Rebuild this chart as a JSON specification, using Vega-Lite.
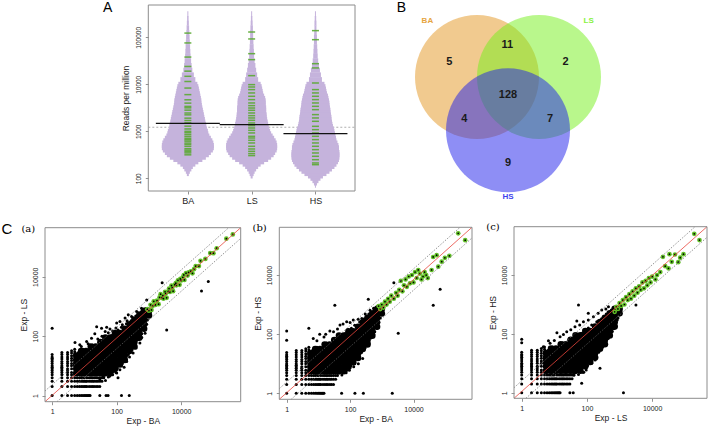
{
"$schema":"https://vega.github.io/schema/vega-lite/v6.json",
"width":708,"height":426,"autosize":"none","padding":0,"background":"white",
"config":{"view":{"stroke":null},"font":"Liberation Sans",
 "axis":{"grid":false,"domain":false,"tickColor":"#777","tickSize":3,"tickWidth":0.8,"labelColor":"#222","titleColor":"#222","titleFontWeight":"normal","labelFont":"Liberation Sans","titleFont":"Liberation Sans","labelOverlap":false,"labelFlush":false,"labelFontSize":7,"titleFontSize":8.5},
 "axisY":{"labelAngle":-90,"labelAlign":"center","labelBaseline":"bottom","labelPadding":4,"titlePadding":3},
 "axisX":{"labelPadding":3,"titlePadding":2}},
"datasets":{
"core":[{"x":5.62,"y":5.62},{"x":5.62,"y":7.94},{"x":5.62,"y":11.2},{"x":5.62,"y":15.8},{"x":5.62,"y":22.4},
{"x":7.94,"y":5.62},{"x":7.94,"y":7.94},{"x":7.94,"y":11.2},{"x":7.94,"y":15.8},{"x":7.94,"y":22.4},{"x":7.94,"y":31.6},
{"x":11.2,"y":5.62},{"x":11.2,"y":7.94},{"x":11.2,"y":11.2},{"x":11.2,"y":15.8},{"x":11.2,"y":22.4},{"x":11.2,"y":31.6},
{"x":15.8,"y":5.62},{"x":15.8,"y":7.94},{"x":15.8,"y":11.2},{"x":15.8,"y":15.8},{"x":15.8,"y":22.4},{"x":15.8,"y":31.6},{"x":15.8,"y":44.7},
{"x":22.4,"y":5.62},{"x":22.4,"y":7.94},{"x":22.4,"y":11.2},{"x":22.4,"y":15.8},{"x":22.4,"y":22.4},{"x":22.4,"y":31.6},{"x":22.4,"y":44.7},
{"x":31.6,"y":5.62},{"x":31.6,"y":7.94},{"x":31.6,"y":11.2},{"x":31.6,"y":15.8},{"x":31.6,"y":22.4},{"x":31.6,"y":31.6},{"x":31.6,"y":44.7},{"x":31.6,"y":63.1},
{"x":44.7,"y":5.62},{"x":44.7,"y":7.94},{"x":44.7,"y":11.2},{"x":44.7,"y":15.8},{"x":44.7,"y":22.4},{"x":44.7,"y":31.6},{"x":44.7,"y":44.7},{"x":44.7,"y":63.1},{"x":44.7,"y":89.1},
{"x":63.1,"y":5.62},{"x":63.1,"y":7.94},{"x":63.1,"y":11.2},{"x":63.1,"y":15.8},{"x":63.1,"y":22.4},{"x":63.1,"y":31.6},{"x":63.1,"y":44.7},{"x":63.1,"y":63.1},{"x":63.1,"y":89.1},
{"x":89.1,"y":7.94},{"x":89.1,"y":11.2},{"x":89.1,"y":15.8},{"x":89.1,"y":22.4},{"x":89.1,"y":31.6},{"x":89.1,"y":44.7},{"x":89.1,"y":63.1},{"x":89.1,"y":89.1},{"x":89.1,"y":126},
{"x":126,"y":11.2},{"x":126,"y":15.8},{"x":126,"y":22.4},{"x":126,"y":31.6},{"x":126,"y":44.7},{"x":126,"y":63.1},{"x":126,"y":89.1},{"x":126,"y":126},
{"x":178,"y":15.8},{"x":178,"y":22.4},{"x":178,"y":31.6},{"x":178,"y":44.7},{"x":178,"y":63.1},{"x":178,"y":89.1},{"x":178,"y":126},{"x":178,"y":178},
{"x":251,"y":31.6},{"x":251,"y":44.7},{"x":251,"y":63.1},{"x":251,"y":89.1},{"x":251,"y":126},{"x":251,"y":178},{"x":251,"y":251},
{"x":355,"y":44.7},{"x":355,"y":63.1},{"x":355,"y":89.1},{"x":355,"y":126},{"x":355,"y":178},{"x":355,"y":251},{"x":355,"y":355},
{"x":501,"y":89.1},{"x":501,"y":126},{"x":501,"y":178},{"x":501,"y":251},{"x":501,"y":355},{"x":501,"y":501},
{"x":708,"y":178},{"x":708,"y":251},{"x":708,"y":355},{"x":708,"y":501},{"x":708,"y":708},
{"x":1000,"y":501},{"x":1000,"y":708}],
"grid":[{"x":1,"y":1},{"x":1,"y":2},{"x":1,"y":3},{"x":1,"y":4},{"x":1,"y":5},{"x":1,"y":6},{"x":1,"y":7},{"x":1,"y":8},{"x":1,"y":9},{"x":1,"y":10},{"x":1,"y":12},{"x":1,"y":14},{"x":1,"y":16},{"x":1,"y":18},{"x":1,"y":20},{"x":1,"y":24},
{"x":2,"y":1},{"x":2,"y":2},{"x":2,"y":3},{"x":2,"y":4},{"x":2,"y":5},{"x":2,"y":6},{"x":2,"y":7},{"x":2,"y":8},{"x":2,"y":9},{"x":2,"y":10},{"x":2,"y":12},{"x":2,"y":14},{"x":2,"y":17},{"x":2,"y":20},{"x":2,"y":24},{"x":2,"y":28},
{"x":3,"y":1},{"x":3,"y":2},{"x":3,"y":3},{"x":3,"y":4},{"x":3,"y":5},{"x":3,"y":6},{"x":3,"y":7},{"x":3,"y":8},{"x":3,"y":10},{"x":3,"y":12},{"x":3,"y":14},{"x":3,"y":17},{"x":3,"y":20},{"x":3,"y":24},{"x":3,"y":28},
{"x":4,"y":1},{"x":4,"y":2},{"x":4,"y":3},{"x":4,"y":4},{"x":4,"y":5},{"x":4,"y":6},{"x":4,"y":8},{"x":4,"y":10},{"x":4,"y":12},{"x":4,"y":15},{"x":4,"y":18},{"x":4,"y":22},{"x":4,"y":27},{"x":4,"y":32},
{"x":5,"y":1},{"x":5,"y":2},{"x":5,"y":3},{"x":5,"y":4},{"x":5,"y":5},{"x":5,"y":6},{"x":5,"y":8},{"x":5,"y":10},{"x":5,"y":13},{"x":5,"y":16},{"x":5,"y":20},{"x":5,"y":25},{"x":5,"y":30},{"x":5,"y":36},
{"x":6,"y":1},{"x":7,"y":1},{"x":8,"y":1},{"x":9,"y":1},{"x":10,"y":1},{"x":11,"y":1},{"x":12,"y":1},{"x":13,"y":1},{"x":14,"y":1},{"x":15,"y":1},
{"x":6,"y":2},{"x":7,"y":2},{"x":8,"y":2},{"x":9,"y":2},{"x":10,"y":2},{"x":11,"y":2},{"x":12,"y":2},{"x":14,"y":2},{"x":16,"y":2},{"x":18,"y":2},{"x":20,"y":2},{"x":23,"y":2},{"x":26,"y":2},{"x":30,"y":2},
{"x":6,"y":3},{"x":7,"y":3},{"x":8,"y":3},{"x":9,"y":3},{"x":10,"y":3},{"x":11,"y":3},{"x":12,"y":3},{"x":14,"y":3},{"x":16,"y":3},{"x":18,"y":3},{"x":20,"y":3},{"x":23,"y":3},{"x":26,"y":3},{"x":30,"y":3},{"x":35,"y":3},
{"x":6,"y":4},{"x":7,"y":4},{"x":8,"y":4},{"x":9,"y":4},{"x":10,"y":4},{"x":12,"y":4},{"x":14,"y":4},{"x":16,"y":4},{"x":18,"y":4},{"x":20,"y":4},{"x":23,"y":4},{"x":26,"y":4},{"x":30,"y":4},{"x":35,"y":4},{"x":40,"y":4},
{"x":6,"y":5},{"x":7,"y":5},{"x":8,"y":5},{"x":9,"y":5},{"x":10,"y":5},{"x":12,"y":5},{"x":14,"y":5},{"x":16,"y":5},{"x":18,"y":5},{"x":20,"y":5},{"x":23,"y":5},{"x":26,"y":5},{"x":30,"y":5},{"x":35,"y":5},{"x":40,"y":5},{"x":46,"y":5}],
"fringe":[{"x":6.5,"y":28},{"x":9,"y":36},{"x":18,"y":50},{"x":28,"y":62},{"x":40,"y":75},{"x":70,"y":105},{"x":85,"y":140},{"x":110,"y":160},{"x":140,"y":200},{"x":200,"y":260},{"x":280,"y":330},{"x":390,"y":480},{"x":560,"y":650},{"x":800,"y":850},{"x":40,"y":4.8},{"x":55,"y":4.2},{"x":75,"y":5},{"x":95,"y":6},{"x":105,"y":8.5},{"x":140,"y":10},{"x":190,"y":17},{"x":230,"y":24},{"x":300,"y":35},{"x":380,"y":55},{"x":450,"y":75},{"x":600,"y":120},{"x":700,"y":160},{"x":900,"y":350}],
"blackA":[{"x":30,"y":1},{"x":47,"y":1},{"x":54,"y":1},{"x":141,"y":1},{"x":245,"y":1},{"x":1,"y":186},{"x":5.1,"y":61},{"x":7.2,"y":51},{"x":24,"y":209},{"x":34,"y":186},{"x":49,"y":200},{"x":100,"y":275},{"x":229,"y":525},{"x":851,"y":1660},{"x":2570,"y":6310},{"x":3550,"y":162},{"x":42700,"y":3310},{"x":69200,"y":6920},{"x":100,"y":5.7},
{"x":11.7,"y":66},{"x":16.6,"y":85},{"x":21,"y":120},{"x":44,"y":144},{"x":62,"y":174},{"x":126,"y":309},{"x":182,"y":407},{"x":289,"y":457},{"x":417,"y":676},{"x":589,"y":871},{"x":8,"y":45},{"x":13,"y":55},{"x":26,"y":80},{"x":35,"y":100},{"x":55,"y":130},{"x":75,"y":150},{"x":95,"y":190},{"x":150,"y":240},{"x":210,"y":330},{"x":320,"y":420},{"x":480,"y":620},{"x":650,"y":760},
{"x":62,"y":9.5},{"x":126,"y":7.4},{"x":204,"y":14},{"x":324,"y":27},{"x":525,"y":59},{"x":759,"y":126},{"x":30,"y":3.4},{"x":38,"y":4.4},{"x":80,"y":6.5},{"x":150,"y":12},{"x":250,"y":20},{"x":400,"y":40},{"x":600,"y":90},{"x":850,"y":250},{"x":110,"y":4},{"x":170,"y":9},{"x":45,"y":3.2},{"x":60,"y":4.5}],
"blackB":[{"x":54,"y":1},{"x":142,"y":1},{"x":262,"y":1},{"x":2140,"y":1},{"x":1,"y":129},{"x":1,"y":63},{"x":5,"y":158},{"x":17,"y":100},{"x":33,"y":955},{"x":48,"y":72},{"x":69,"y":49},{"x":375,"y":1510},{"x":2400,"y":5470},{"x":3300,"y":107},{"x":41900,"y":958},{"x":69200,"y":3330},{"x":69,"y":9},{"x":100,"y":17},{"x":182,"y":10},{"x":204,"y":22},{"x":295,"y":43},{"x":162,"y":55},{"x":80,"y":6},{"x":130,"y":8},{"x":250,"y":15},{"x":400,"y":50},{"x":550,"y":100},{"x":800,"y":250},{"x":6.9,"y":72},{"x":11,"y":100},{"x":23,"y":129},{"x":48,"y":204},{"x":78,"y":263},{"x":126,"y":302},{"x":234,"y":339},{"x":427,"y":646},{"x":692,"y":851},{"x":9,"y":60},{"x":15,"y":80},{"x":30,"y":120},{"x":40,"y":150},{"x":60,"y":220},{"x":100,"y":250},{"x":180,"y":320},{"x":300,"y":480},{"x":550,"y":750}],
"blackC":[{"x":30,"y":1},{"x":38,"y":1},{"x":1318,"y":1},{"x":1,"y":66},{"x":1,"y":50},{"x":6.6,"y":59},{"x":12,"y":110},{"x":49,"y":275},{"x":55,"y":960},{"x":110,"y":500},{"x":34,"y":7.6},{"x":178,"y":13},{"x":251,"y":6.8},{"x":69,"y":2.1},{"x":3180,"y":960},{"x":4.6,"y":37},{"x":7.4,"y":48},{"x":15,"y":80},{"x":24,"y":118},{"x":43,"y":175},{"x":78,"y":259},{"x":158,"y":387},{"x":284,"y":651},{"x":457,"y":846},{"x":10,"y":60},{"x":19,"y":95},{"x":32,"y":140},{"x":60,"y":200},{"x":110,"y":300},{"x":220,"y":500},{"x":380,"y":700},{"x":60,"y":8},{"x":100,"y":10},{"x":150,"y":15},{"x":220,"y":25},{"x":320,"y":40},{"x":450,"y":70},{"x":650,"y":150},{"x":850,"y":300},{"x":40,"y":4},{"x":80,"y":5}],
"greenA":[{"x":891,"y":811},{"x":1000,"y":719},{"x":1122,"y":1135},{"x":1202,"y":767},{"x":1318,"y":1054},{"x":1413,"y":1486},{"x":1585,"y":1125},{"x":1778,"y":1581},{"x":1995,"y":1197},{"x":2138,"y":2028},{"x":2512,"y":1972},{"x":2818,"y":1832},{"x":3162,"y":3105},{"x":3548,"y":1950},{"x":3981,"y":3221},{"x":4467,"y":3069},{"x":5012,"y":5070},{"x":5623,"y":3266},{"x":6310,"y":5395},{"x":7079,"y":5140},{"x":7943,"y":7568},{"x":8913,"y":5346},{"x":10000,"y":7516},{"x":11220,"y":9640},{"x":12590,"y":7816},{"x":14130,"y":13210},{"x":15850,"y":10960},{"x":19950,"y":15380},{"x":22390,"y":13030},{"x":28180,"y":23010},{"x":35480,"y":22860},{"x":39810,"y":34440},{"x":56230,"y":40090},{"x":79430,"y":62810},{"x":100000,"y":62370},{"x":125900,"y":91620},{"x":251200,"y":191900},{"x":398100,"y":266700},{"x":2300,"y":2600},{"x":2700,"y":2300},{"x":3300,"y":2700},{"x":4200,"y":4000},{"x":5300,"y":4300},{"x":6800,"y":6100},{"x":9400,"y":8500},{"x":12000,"y":11500},{"x":17000,"y":14000},{"x":25000,"y":18000}],
"greenB":[{"x":257000,"y":257000},{"x":427000,"y":151000},{"x":41700,"y":40700},{"x":53700,"y":46800},{"x":97700,"y":38000},{"x":135000,"y":44700},{"x":77600,"y":28200},{"x":60300,"y":19100},{"x":37200,"y":14800},{"x":14100,"y":14800},{"x":15800,"y":11200},{"x":20000,"y":8900},{"x":25100,"y":10000},{"x":28200,"y":7900},{"x":17800,"y":7100},{"x":22400,"y":12600},{"x":7760,"y":5250},{"x":6170,"y":3980},{"x":5010,"y":4470},{"x":4470,"y":2820},{"x":3550,"y":3160},{"x":3160,"y":2000},{"x":2820,"y":2510},{"x":2400,"y":1580},{"x":2000,"y":2000},{"x":1780,"y":1260},{"x":1580,"y":1580},{"x":1410,"y":1000},{"x":1260,"y":1260},{"x":1120,"y":794},{"x":1000,"y":1000},{"x":891,"y":708},{"x":794,"y":891},{"x":3980,"y":6310},{"x":5620,"y":7080},{"x":7080,"y":8910},{"x":8910,"y":10000},{"x":11200,"y":12600},{"x":10000,"y":5620},{"x":12600,"y":7940}],
"greenC":[{"x":195000,"y":251000},{"x":282000,"y":155000},{"x":33900,"y":51300},{"x":21400,"y":41700},{"x":72400,"y":38900},{"x":91200,"y":51300},{"x":63100,"y":27500},{"x":31600,"y":17000},{"x":25100,"y":20000},{"x":17800,"y":12600},{"x":14100,"y":10000},{"x":12600,"y":7080},{"x":10000,"y":8910},{"x":8910,"y":5620},{"x":7940,"y":7940},{"x":7080,"y":4470},{"x":6310,"y":6310},{"x":5620,"y":3550},{"x":5010,"y":5620},{"x":4470,"y":3160},{"x":3980,"y":4170},{"x":3550,"y":2510},{"x":3160,"y":3550},{"x":2820,"y":2000},{"x":2510,"y":2820},{"x":2240,"y":1580},{"x":2000,"y":2240},{"x":1780,"y":1410},{"x":1580,"y":1780},{"x":1410,"y":1000},{"x":1260,"y":1410},{"x":1120,"y":891},{"x":1000,"y":1120},{"x":891,"y":708},{"x":794,"y":832},{"x":708,"y":562},{"x":39800,"y":28200},{"x":50100,"y":50100}]
},
"layer":[
{
 "encoding":{
  "x":{"field":"fx","type":"quantitative","scale":{"domain":[0,1],"range":[148.3,355],"nice":false,"zero":false},"axis":null},
  "y":{"field":"fy","type":"quantitative","scale":{"type":"log","domain":[53.7,487000],"range":[191,5],"nice":false},"axis":null}},
 "layer":[
  {"data":{"values":[{"fx":0,"fy":53.7,"fx2":1,"fy2":487000}]},"mark":{"type":"rect","filled":false,"color":"#8c8c8c","strokeWidth":1},"encoding":{"x2":{"field":"fx2"},"y2":{"field":"fy2"}}},
  {"data":{"values":[{"fx":0,"fx2":1,"fy":1220}]},"mark":{"type":"rule","strokeDash":[2,2],"color":"#9a9a9a","strokeWidth":0.8},"encoding":{"x2":{"field":"fx2"}}},
  {"data":{"values":[{"t":"A","fx":-0.196,"fy":414000}]},"mark":{"type":"text","fontSize":14,"color":"#000","align":"center","baseline":"middle"},"encoding":{"text":{"field":"t","type":"nominal"}}}
 ]
},
{
 "encoding":{
  "x":{"field":"g","type":"nominal","sort":null,"scale":{"type":"point","domain":["BA","LS","HS"],"range":[148.3,355],"padding":0.62},"axis":{"orient":"bottom","offset":-235,"title":null,"labelAngle":0,"labelFontSize":9,"labelPadding":2}},
  "y":{"field":"rpm","type":"quantitative","scale":{"type":"log","domain":[53.7,487000],"range":[191,5],"nice":false},"axis":{"orient":"left","offset":-148.3,"values":[100,1000,10000,100000],"format":"d","title":"Reads per million","labelFontSize":6.5,"titleFontSize":8.5,"titlePadding":5}}},
 "layer":[
  {"data":{"values":[
{"g":"BA","rpm":126,"dens":0.04},{"g":"BA","rpm":141,"dens":0.08},{"g":"BA","rpm":158,"dens":0.14},{"g":"BA","rpm":178,"dens":0.2},{"g":"BA","rpm":200,"dens":0.3},{"g":"BA","rpm":224,"dens":0.42},{"g":"BA","rpm":251,"dens":0.58},{"g":"BA","rpm":282,"dens":0.72},{"g":"BA","rpm":316,"dens":0.84},{"g":"BA","rpm":355,"dens":0.92},{"g":"BA","rpm":398,"dens":1.0},{"g":"BA","rpm":447,"dens":1.04},{"g":"BA","rpm":501,"dens":1.04},{"g":"BA","rpm":562,"dens":1.02},{"g":"BA","rpm":631,"dens":0.98},{"g":"BA","rpm":708,"dens":0.92},{"g":"BA","rpm":794,"dens":0.86},{"g":"BA","rpm":891,"dens":0.82},{"g":"BA","rpm":1000,"dens":0.8},{"g":"BA","rpm":1122,"dens":0.76},{"g":"BA","rpm":1259,"dens":0.74},{"g":"BA","rpm":1413,"dens":0.72},{"g":"BA","rpm":1585,"dens":0.7},{"g":"BA","rpm":1778,"dens":0.68},{"g":"BA","rpm":1995,"dens":0.66},{"g":"BA","rpm":2239,"dens":0.64},{"g":"BA","rpm":2512,"dens":0.62},{"g":"BA","rpm":2818,"dens":0.6},{"g":"BA","rpm":3162,"dens":0.58},{"g":"BA","rpm":3548,"dens":0.56},{"g":"BA","rpm":3981,"dens":0.54},{"g":"BA","rpm":4467,"dens":0.54},{"g":"BA","rpm":5012,"dens":0.52},{"g":"BA","rpm":5623,"dens":0.5},{"g":"BA","rpm":6310,"dens":0.48},{"g":"BA","rpm":7079,"dens":0.46},{"g":"BA","rpm":7943,"dens":0.44},{"g":"BA","rpm":8913,"dens":0.42},{"g":"BA","rpm":10000,"dens":0.38},{"g":"BA","rpm":12589,"dens":0.3},{"g":"BA","rpm":15849,"dens":0.24},{"g":"BA","rpm":19953,"dens":0.18},{"g":"BA","rpm":25119,"dens":0.15},{"g":"BA","rpm":31623,"dens":0.13},{"g":"BA","rpm":39811,"dens":0.11},{"g":"BA","rpm":50119,"dens":0.1},{"g":"BA","rpm":63096,"dens":0.09},{"g":"BA","rpm":79433,"dens":0.08},{"g":"BA","rpm":100000,"dens":0.07},{"g":"BA","rpm":125893,"dens":0.06},{"g":"BA","rpm":158489,"dens":0.05},{"g":"BA","rpm":199526,"dens":0.04},{"g":"BA","rpm":251189,"dens":0.03},{"g":"BA","rpm":316228,"dens":0.02},
{"g":"LS","rpm":112,"dens":0.04},{"g":"LS","rpm":126,"dens":0.08},{"g":"LS","rpm":141,"dens":0.12},{"g":"LS","rpm":158,"dens":0.18},{"g":"LS","rpm":178,"dens":0.26},{"g":"LS","rpm":200,"dens":0.36},{"g":"LS","rpm":224,"dens":0.5},{"g":"LS","rpm":251,"dens":0.66},{"g":"LS","rpm":282,"dens":0.78},{"g":"LS","rpm":316,"dens":0.88},{"g":"LS","rpm":355,"dens":0.94},{"g":"LS","rpm":398,"dens":1.0},{"g":"LS","rpm":447,"dens":1.02},{"g":"LS","rpm":501,"dens":1.02},{"g":"LS","rpm":562,"dens":1.0},{"g":"LS","rpm":631,"dens":0.96},{"g":"LS","rpm":708,"dens":0.9},{"g":"LS","rpm":794,"dens":0.84},{"g":"LS","rpm":891,"dens":0.78},{"g":"LS","rpm":1000,"dens":0.74},{"g":"LS","rpm":1122,"dens":0.7},{"g":"LS","rpm":1259,"dens":0.68},{"g":"LS","rpm":1413,"dens":0.66},{"g":"LS","rpm":1585,"dens":0.64},{"g":"LS","rpm":1778,"dens":0.62},{"g":"LS","rpm":1995,"dens":0.6},{"g":"LS","rpm":2239,"dens":0.6},{"g":"LS","rpm":2512,"dens":0.58},{"g":"LS","rpm":2818,"dens":0.58},{"g":"LS","rpm":3162,"dens":0.58},{"g":"LS","rpm":3548,"dens":0.56},{"g":"LS","rpm":3981,"dens":0.56},{"g":"LS","rpm":4467,"dens":0.56},{"g":"LS","rpm":5012,"dens":0.54},{"g":"LS","rpm":5623,"dens":0.5},{"g":"LS","rpm":6310,"dens":0.46},{"g":"LS","rpm":7079,"dens":0.44},{"g":"LS","rpm":7943,"dens":0.42},{"g":"LS","rpm":8913,"dens":0.4},{"g":"LS","rpm":10000,"dens":0.36},{"g":"LS","rpm":12589,"dens":0.26},{"g":"LS","rpm":15849,"dens":0.22},{"g":"LS","rpm":19953,"dens":0.18},{"g":"LS","rpm":25119,"dens":0.15},{"g":"LS","rpm":31623,"dens":0.12},{"g":"LS","rpm":39811,"dens":0.1},{"g":"LS","rpm":50119,"dens":0.09},{"g":"LS","rpm":63096,"dens":0.08},{"g":"LS","rpm":79433,"dens":0.07},{"g":"LS","rpm":100000,"dens":0.06},{"g":"LS","rpm":125893,"dens":0.06},{"g":"LS","rpm":158489,"dens":0.05},{"g":"LS","rpm":199526,"dens":0.04},{"g":"LS","rpm":251189,"dens":0.03},{"g":"LS","rpm":316228,"dens":0.02},
{"g":"HS","rpm":70.8,"dens":0.02},{"g":"HS","rpm":79.4,"dens":0.06},{"g":"HS","rpm":89.1,"dens":0.12},{"g":"HS","rpm":100,"dens":0.2},{"g":"HS","rpm":112,"dens":0.3},{"g":"HS","rpm":126,"dens":0.44},{"g":"HS","rpm":141,"dens":0.56},{"g":"HS","rpm":158,"dens":0.66},{"g":"HS","rpm":178,"dens":0.76},{"g":"HS","rpm":200,"dens":0.84},{"g":"HS","rpm":224,"dens":0.9},{"g":"HS","rpm":251,"dens":0.94},{"g":"HS","rpm":282,"dens":0.96},{"g":"HS","rpm":316,"dens":0.96},{"g":"HS","rpm":355,"dens":0.96},{"g":"HS","rpm":398,"dens":0.94},{"g":"HS","rpm":447,"dens":0.94},{"g":"HS","rpm":501,"dens":0.92},{"g":"HS","rpm":562,"dens":0.88},{"g":"HS","rpm":631,"dens":0.84},{"g":"HS","rpm":708,"dens":0.82},{"g":"HS","rpm":794,"dens":0.8},{"g":"HS","rpm":891,"dens":0.78},{"g":"HS","rpm":1000,"dens":0.76},{"g":"HS","rpm":1122,"dens":0.74},{"g":"HS","rpm":1259,"dens":0.7},{"g":"HS","rpm":1413,"dens":0.68},{"g":"HS","rpm":1585,"dens":0.66},{"g":"HS","rpm":1778,"dens":0.64},{"g":"HS","rpm":1995,"dens":0.64},{"g":"HS","rpm":2239,"dens":0.62},{"g":"HS","rpm":2512,"dens":0.6},{"g":"HS","rpm":2818,"dens":0.6},{"g":"HS","rpm":3162,"dens":0.58},{"g":"HS","rpm":3548,"dens":0.56},{"g":"HS","rpm":3981,"dens":0.56},{"g":"HS","rpm":4467,"dens":0.54},{"g":"HS","rpm":5012,"dens":0.52},{"g":"HS","rpm":5623,"dens":0.5},{"g":"HS","rpm":6310,"dens":0.46},{"g":"HS","rpm":7079,"dens":0.44},{"g":"HS","rpm":7943,"dens":0.42},{"g":"HS","rpm":8913,"dens":0.4},{"g":"HS","rpm":10000,"dens":0.36},{"g":"HS","rpm":12589,"dens":0.26},{"g":"HS","rpm":15849,"dens":0.22},{"g":"HS","rpm":19953,"dens":0.18},{"g":"HS","rpm":25119,"dens":0.14},{"g":"HS","rpm":31623,"dens":0.11},{"g":"HS","rpm":39811,"dens":0.09},{"g":"HS","rpm":50119,"dens":0.08},{"g":"HS","rpm":63096,"dens":0.07},{"g":"HS","rpm":79433,"dens":0.06},{"g":"HS","rpm":100000,"dens":0.06},{"g":"HS","rpm":125893,"dens":0.05},{"g":"HS","rpm":158489,"dens":0.04},{"g":"HS","rpm":199526,"dens":0.04},{"g":"HS","rpm":251189,"dens":0.03},{"g":"HS","rpm":316228,"dens":0.02}
  ]},"mark":{"type":"tick","thickness":5,"color":"#c5b3dc","opacity":1},
  "encoding":{"size":{"field":"dens","type":"quantitative","scale":{"domain":[0,1],"range":[0,50]},"legend":null}}},
  {"data":{"values":[
{"g":"BA","rpm":123000},{"g":"BA","rpm":75900},{"g":"BA","rpm":38000},{"g":"BA","rpm":24000},{"g":"BA","rpm":19050},{"g":"BA","rpm":14790},{"g":"BA","rpm":11480},{"g":"BA","rpm":8320},{"g":"BA","rpm":6030},{"g":"BA","rpm":4680},{"g":"BA","rpm":3980},{"g":"BA","rpm":3390},{"g":"BA","rpm":3160},{"g":"BA","rpm":2820},{"g":"BA","rpm":2450},{"g":"BA","rpm":2240},{"g":"BA","rpm":1905},{"g":"BA","rpm":1700},{"g":"BA","rpm":1514},{"g":"BA","rpm":1288},{"g":"BA","rpm":1122},{"g":"BA","rpm":1000},{"g":"BA","rpm":933},{"g":"BA","rpm":851},{"g":"BA","rpm":776},{"g":"BA","rpm":708},{"g":"BA","rpm":661},{"g":"BA","rpm":617},{"g":"BA","rpm":562},{"g":"BA","rpm":525},{"g":"BA","rpm":479},{"g":"BA","rpm":427},{"g":"BA","rpm":398},{"g":"BA","rpm":372},{"g":"BA","rpm":347},{"g":"BA","rpm":316},
{"g":"LS","rpm":129700},{"g":"LS","rpm":92300},{"g":"LS","rpm":44900},{"g":"LS","rpm":33500},{"g":"LS","rpm":15280},{"g":"LS","rpm":9840},{"g":"LS","rpm":8770},{"g":"LS","rpm":7710},{"g":"LS","rpm":6550},{"g":"LS","rpm":5560},{"g":"LS","rpm":4720},{"g":"LS","rpm":4010},{"g":"LS","rpm":3520},{"g":"LS","rpm":3130},{"g":"LS","rpm":2800},{"g":"LS","rpm":2455},{"g":"LS","rpm":2155},{"g":"LS","rpm":1923},{"g":"LS","rpm":1714},{"g":"LS","rpm":1504},{"g":"LS","rpm":1321},{"g":"LS","rpm":1178},{"g":"LS","rpm":1050},{"g":"LS","rpm":923},{"g":"LS","rpm":783},{"g":"LS","rpm":721},{"g":"LS","rpm":644},{"g":"LS","rpm":565},{"g":"LS","rpm":480},{"g":"LS","rpm":421},{"g":"LS","rpm":375},{"g":"LS","rpm":335},{"g":"LS","rpm":304},
{"g":"HS","rpm":138700},{"g":"HS","rpm":89100},{"g":"HS","rpm":27500},{"g":"HS","rpm":22300},{"g":"HS","rpm":10670},{"g":"HS","rpm":7710},{"g":"HS","rpm":6550},{"g":"HS","rpm":5560},{"g":"HS","rpm":4720},{"g":"HS","rpm":4010},{"g":"HS","rpm":3400},{"g":"HS","rpm":2890},{"g":"HS","rpm":2265},{"g":"HS","rpm":1923},{"g":"HS","rpm":1633},{"g":"HS","rpm":1277},{"g":"HS","rpm":1084},{"g":"HS","rpm":923},{"g":"HS","rpm":783},{"g":"HS","rpm":665},{"g":"HS","rpm":565},{"g":"HS","rpm":480},{"g":"HS","rpm":407},{"g":"HS","rpm":346},{"g":"HS","rpm":294},{"g":"HS","rpm":249},{"g":"HS","rpm":212},{"g":"HS","rpm":195}
  ]},"mark":{"type":"tick","thickness":1.5,"size":7,"color":"#5aa832","opacity":0.9}},
  {"data":{"values":[{"g":"BA","rpm":1480},{"g":"LS","rpm":1390},{"g":"HS","rpm":890}]},"mark":{"type":"tick","thickness":1.3,"size":64,"color":"#111","opacity":1}}
 ]
},
{
 "encoding":{
  "x":{"field":"x","type":"quantitative","scale":{"domain":[-2,2],"range":[384,632],"nice":false,"zero":false},"axis":null},
  "y":{"field":"y","type":"quantitative","scale":{"domain":[-2,2],"range":[219,-29],"nice":false,"zero":false},"axis":null}},
 "layer":[
  {"data":{"values":[{"set":"BA","x":-0.5,"y":0.29},{"set":"LS","x":0.5,"y":0.29},{"set":"HS","x":0,"y":-0.57}]},
   "mark":{"type":"circle","size":15376,"opacity":0.5,"strokeWidth":0},
   "encoding":{"color":{"field":"set","type":"nominal","scale":{"domain":["BA","LS","HS"],"range":["#e39520","#73ef19","#1d1deb"]},"legend":null}}},
  {"data":{"values":[{"n":"5","x":-0.947,"y":0.537},{"n":"11","x":-0.01,"y":0.806},{"n":"2","x":0.93,"y":0.537},{"n":"128","x":0,"y":0},{"n":"4","x":-0.705,"y":-0.392},{"n":"7","x":0.677,"y":-0.392},{"n":"9","x":0,"y":-1.09}]},
   "mark":{"type":"text","fontSize":11,"fontWeight":"bold","color":"#1a1a1a","align":"center","baseline":"middle"},
   "encoding":{"text":{"field":"n","type":"nominal"}}},
  {"data":{"values":[{"set":"BA","x":-1.3,"y":1.19},{"set":"LS","x":1.3,"y":1.19},{"set":"HS","x":0,"y":-1.64}]},
   "mark":{"type":"text","fontSize":8,"fontWeight":"bold","align":"center","baseline":"middle","opacity":0.85},
   "encoding":{"text":{"field":"set","type":"nominal"},"color":{"field":"set","type":"nominal","legend":null}}},
  {"data":{"values":[{"t":"B","x":-1.72,"y":1.4}]},"mark":{"type":"text","fontSize":14,"color":"#000","align":"center","baseline":"middle"},"encoding":{"text":{"field":"t","type":"nominal"}}}
 ]
},
{
 "encoding":{
  "x":{"field":"x","type":"quantitative","scale":{"type":"log","domain":[0.6,700000],"range":[45,240.7],"nice":false},"axis":{"orient":"bottom","offset":-24.3,"values":[1,100,10000],"format":"d","title":"Exp - BA"}},
  "y":{"field":"y","type":"quantitative","scale":{"type":"log","domain":[0.62,450000],"range":[401.7,227.7],"nice":false},"axis":{"orient":"left","offset":-45,"values":[1,100,10000],"format":"d","title":"Exp - LS"}}},
 "layer":[
  {"data":{"name":"core"},"mark":{"type":"circle","size":44,"color":"#000","opacity":1}},
  {"data":{"name":"grid"},"mark":{"type":"circle","size":9,"color":"#000","opacity":1}},
  {"data":{"name":"fringe"},"mark":{"type":"circle","size":9,"color":"#000","opacity":1}},
  {"data":{"name":"blackA"},"mark":{"type":"circle","size":9,"color":"#000","opacity":1}},
  {"data":{"name":"greenA"},"mark":{"type":"circle","size":22,"color":"#62bf28","opacity":1}},
  {"data":{"name":"greenA"},"mark":{"type":"circle","size":3,"color":"#000","opacity":1}},
  {"data":{"values":[{"x":0.6,"y":1.42,"x2":297000,"y2":450000},{"x":1.415,"y":0.62,"x2":700000,"y2":196500}]},"mark":{"type":"rule","strokeDash":[1.5,1.5],"color":"#666","strokeWidth":0.7},"encoding":{"x2":{"field":"x2"},"y2":{"field":"y2"}}},
  {"data":{"values":[{"x":0.6,"y":0.62,"x2":700000,"y2":450000}]},"mark":{"type":"rule","color":"#e8453c","strokeWidth":0.8},"encoding":{"x2":{"field":"x2"},"y2":{"field":"y2"}}},
  {"data":{"values":[{"x":0.6,"y":0.62,"x2":700000,"y2":450000}]},"mark":{"type":"rect","filled":false,"color":"#8c8c8c","strokeWidth":1},"encoding":{"x2":{"field":"x2"},"y2":{"field":"y2"}}},
  {"data":{"values":[{"t":"(a)","x":0.1816,"y":407000}]},"mark":{"type":"text","font":"DejaVu Serif","fontSize":10,"color":"#000","align":"center","baseline":"middle"},"encoding":{"text":{"field":"t","type":"nominal"}}},
  {"data":{"values":[{"t":"C","x":0.0398,"y":407000}]},"mark":{"type":"text","fontSize":15,"color":"#000","align":"center","baseline":"middle"},"encoding":{"text":{"field":"t","type":"nominal"}}}
 ]
},
{
 "encoding":{
  "x":{"field":"x","type":"quantitative","scale":{"type":"log","domain":[0.585,700000],"range":[279.3,472],"nice":false},"axis":{"orient":"bottom","offset":-26.7,"values":[1,100,10000],"format":"d","title":"Exp - BA"}},
  "y":{"field":"y","type":"quantitative","scale":{"type":"log","domain":[0.63,410000],"range":[399.3,227.3],"nice":false},"axis":{"orient":"left","offset":-279.3,"values":[1,100,10000],"format":"d","title":"Exp - HS"}}},
 "layer":[
  {"data":{"name":"core"},"mark":{"type":"circle","size":44,"color":"#000","opacity":1}},
  {"data":{"name":"grid"},"mark":{"type":"circle","size":9,"color":"#000","opacity":1}},
  {"data":{"name":"fringe"},"mark":{"type":"circle","size":9,"color":"#000","opacity":1}},
  {"data":{"name":"blackB"},"mark":{"type":"circle","size":9,"color":"#000","opacity":1}},
  {"data":{"name":"greenB"},"mark":{"type":"circle","size":22,"color":"#62bf28","opacity":1}},
  {"data":{"name":"greenB"},"mark":{"type":"circle","size":3,"color":"#000","opacity":1}},
  {"data":{"values":[{"x":0.585,"y":1.443,"x2":294000,"y2":410000},{"x":1.392,"y":0.63,"x2":700000,"y2":179000}]},"mark":{"type":"rule","strokeDash":[1.5,1.5],"color":"#666","strokeWidth":0.7},"encoding":{"x2":{"field":"x2"},"y2":{"field":"y2"}}},
  {"data":{"values":[{"x":0.585,"y":0.63,"x2":700000,"y2":410000}]},"mark":{"type":"rule","color":"#e8453c","strokeWidth":0.8},"encoding":{"x2":{"field":"x2"},"y2":{"field":"y2"}}},
  {"data":{"values":[{"x":0.585,"y":0.63,"x2":700000,"y2":410000}]},"mark":{"type":"rect","filled":false,"color":"#8c8c8c","strokeWidth":1},"encoding":{"x2":{"field":"x2"},"y2":{"field":"y2"}}},
  {"data":{"values":[{"t":"(b)","x":0.1406,"y":390000}]},"mark":{"type":"text","font":"DejaVu Serif","fontSize":10,"color":"#000","align":"center","baseline":"middle"},"encoding":{"text":{"field":"t","type":"nominal"}}}
 ]
},
{
 "encoding":{
  "x":{"field":"x","type":"quantitative","scale":{"type":"log","domain":[0.58,480000],"range":[514,707],"nice":false},"axis":{"orient":"bottom","offset":-27.7,"values":[1,100,10000],"format":"d","title":"Exp - LS"}},
  "y":{"field":"y","type":"quantitative","scale":{"type":"log","domain":[0.65,440000],"range":[398.3,226.7],"nice":false},"axis":{"orient":"left","offset":-514,"values":[1,100,10000],"format":"d","title":"Exp - HS"}}},
 "layer":[
  {"data":{"name":"core"},"mark":{"type":"circle","size":44,"color":"#000","opacity":1}},
  {"data":{"name":"grid"},"mark":{"type":"circle","size":9,"color":"#000","opacity":1}},
  {"data":{"name":"fringe"},"mark":{"type":"circle","size":9,"color":"#000","opacity":1}},
  {"data":{"name":"blackC"},"mark":{"type":"circle","size":9,"color":"#000","opacity":1}},
  {"data":{"name":"greenC"},"mark":{"type":"circle","size":22,"color":"#62bf28","opacity":1}},
  {"data":{"name":"greenC"},"mark":{"type":"circle","size":3,"color":"#000","opacity":1}},
  {"data":{"values":[{"x":0.58,"y":1.489,"x2":206800,"y2":440000},{"x":1.345,"y":0.65,"x2":480000,"y2":192100}]},"mark":{"type":"rule","strokeDash":[1.5,1.5],"color":"#666","strokeWidth":0.7},"encoding":{"x2":{"field":"x2"},"y2":{"field":"y2"}}},
  {"data":{"values":[{"x":0.58,"y":0.65,"x2":480000,"y2":440000}]},"mark":{"type":"rule","color":"#e8453c","strokeWidth":0.8},"encoding":{"x2":{"field":"x2"},"y2":{"field":"y2"}}},
  {"data":{"values":[{"x":0.58,"y":0.65,"x2":480000,"y2":440000}]},"mark":{"type":"rect","filled":false,"color":"#8c8c8c","strokeWidth":1},"encoding":{"x2":{"field":"x2"},"y2":{"field":"y2"}}},
  {"data":{"values":[{"t":"(c)","x":0.1318,"y":417000}]},"mark":{"type":"text","font":"DejaVu Serif","fontSize":10,"color":"#000","align":"center","baseline":"middle"},"encoding":{"text":{"field":"t","type":"nominal"}}}
 ]
}
],
"resolve":{"scale":{"x":"independent","y":"independent","color":"independent","size":"independent"},"axis":{"x":"independent","y":"independent"}}
}
